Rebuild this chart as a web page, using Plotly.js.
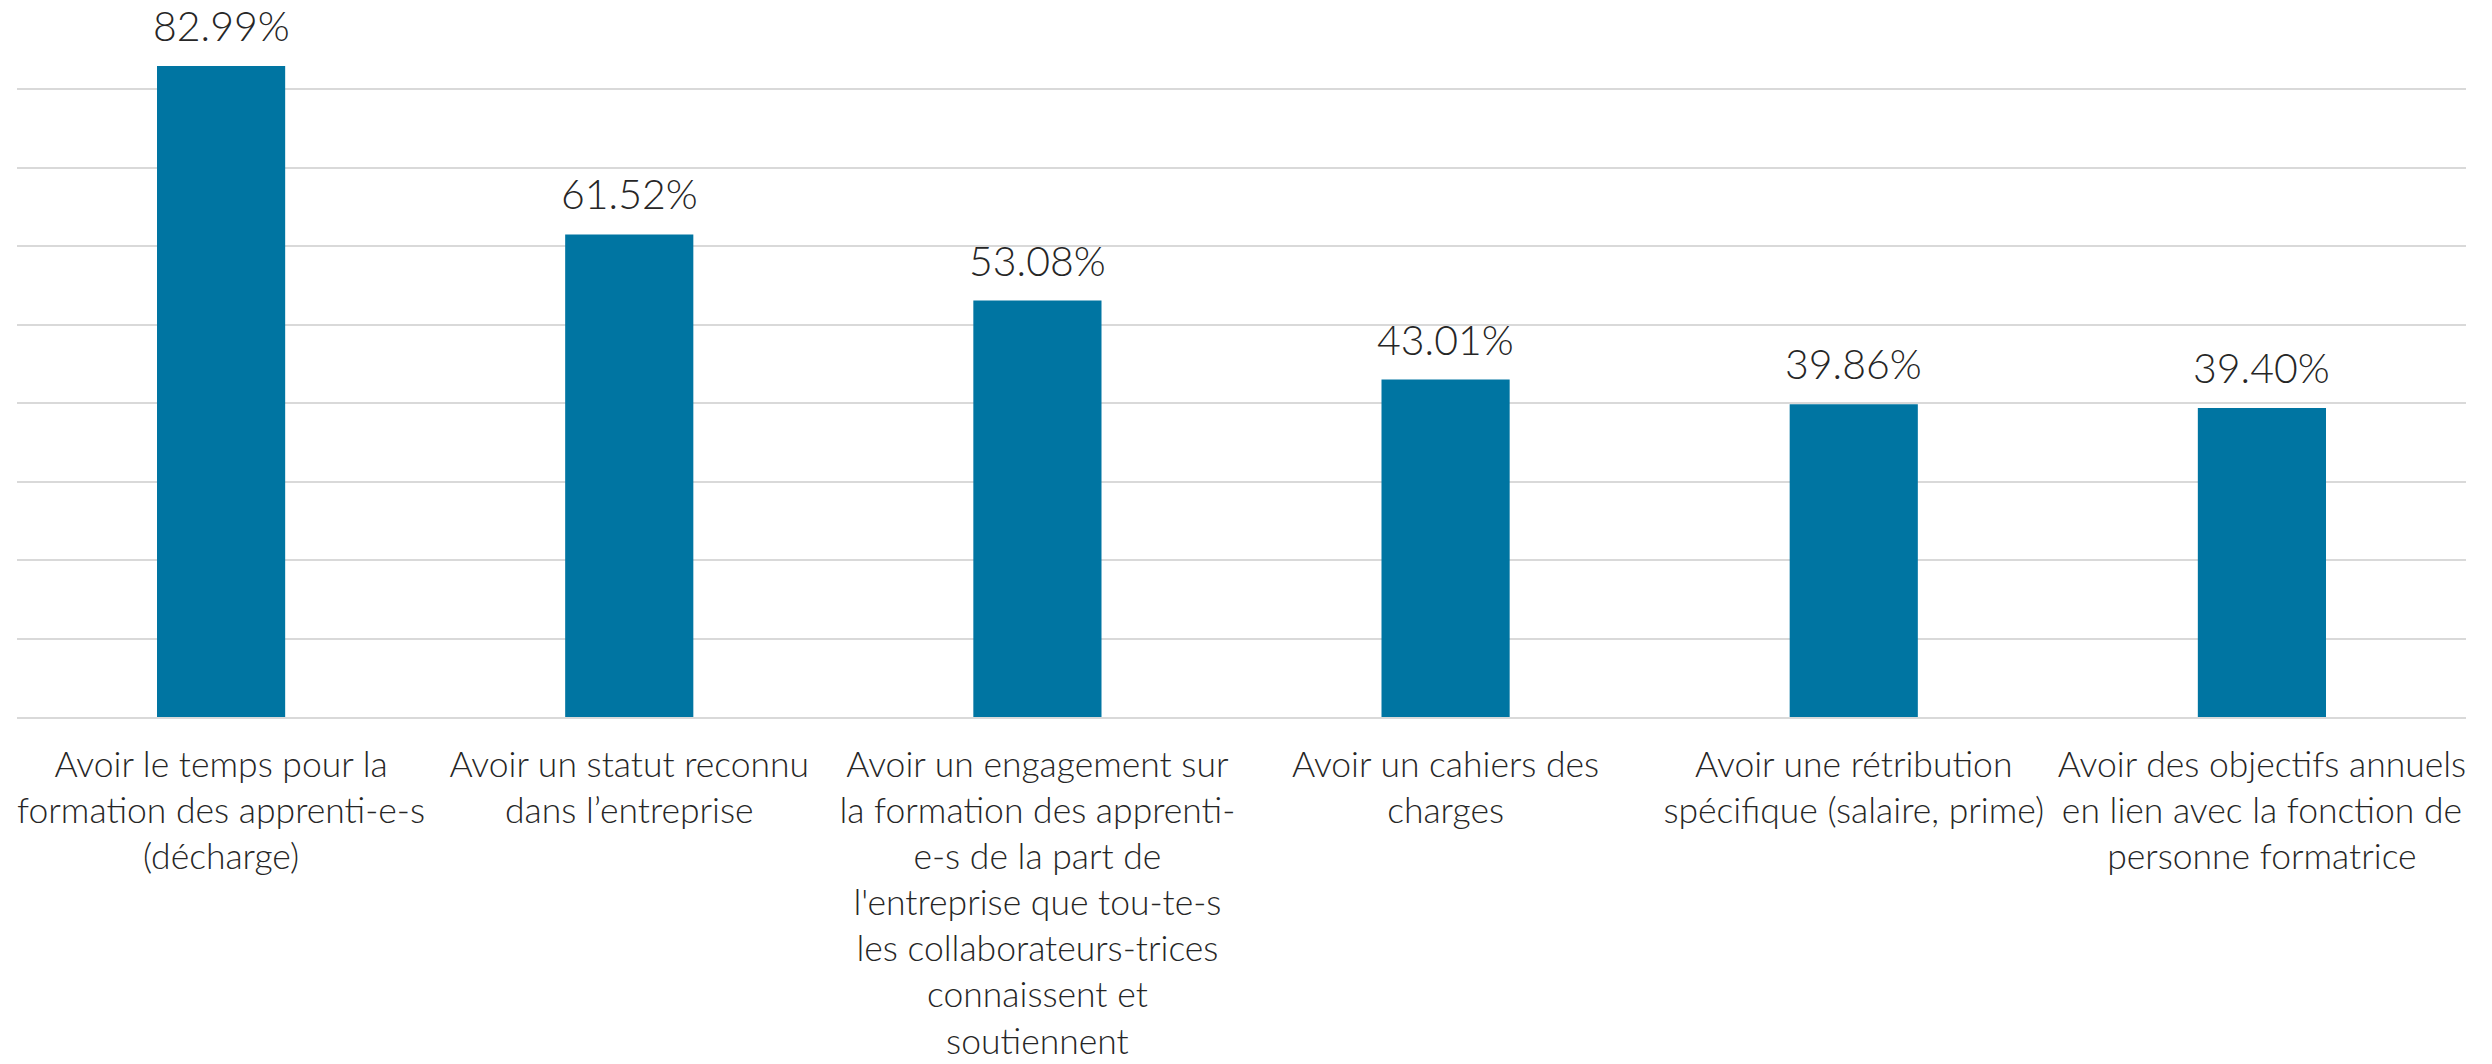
<!DOCTYPE html>
<html>
<head>
<meta charset="utf-8">
<script src="https://cdn.plot.ly/plotly-3.0.1.min.js"></script>
<style>
html,body{margin:0;padding:0;background:#fff;}
#chart{width:2492px;height:1064px;}
</style>
</head>
<body>
<div id="chart"></div>
<script>
const categories = [
  "Avoir le temps pour la<br>formation des apprenti-e-s<br>(décharge)",
  "Avoir un statut reconnu<br>dans l’entreprise",
  "Avoir un engagement sur<br>la formation des apprenti-<br>e-s de la part de<br>l'entreprise que tou-te-s<br>les collaborateurs-trices<br>connaissent et<br>soutiennent",
  "Avoir un cahiers des<br>charges",
  "Avoir une rétribution<br>spécifique (salaire, prime)",
  "Avoir des objectifs annuels<br>en lien avec la fonction de<br>personne formatrice"
];
const values = [0.8299, 0.6152, 0.5308, 0.4301, 0.3986, 0.3940];
const valueLabels = ["82.99%", "61.52%", "53.08%", "43.01%", "39.86%", "39.40%"];

const FONT = "Lato, 'Source Sans Pro', 'Noto Sans', sans-serif";
const TEXT = "#262626";

const annotations = categories.map((c, i) => ({
  x: c, y: values[i], xref: "x", yref: "y",
  text: valueLabels[i], showarrow: false,
  yanchor: "bottom", xanchor: "center", yshift: 14,
  font: {family: FONT, size: 41, color: TEXT, weight: 300}
}));

const trace = {
  type: "bar",
  x: categories,
  y: values,
  marker: {color: "#0075a2"},
  hoverinfo: "skip"
};

const layout = {
  width: 2492, height: 1064,
  margin: {l: 17, r: 26, t: 11, b: 347},
  paper_bgcolor: "#ffffff", plot_bgcolor: "#ffffff",
  bargap: 0.686,
  showlegend: false,
  font: {family: FONT, color: TEXT},
  xaxis: {
    type: "category",
    showgrid: false,
    showline: true, linecolor: "#d9d9d9", linewidth: 2,
    ticks: "", ticklabelstandoff: 15,
    tickfont: {family: FONT, size: 35.5, color: TEXT, weight: 300},
    tickangle: 0
  },
  yaxis: {
    range: [0, 0.9], dtick: 0.1, tick0: 0,
    showgrid: true, gridcolor: "#d9d9d9", gridwidth: 2,
    zeroline: false, showticklabels: false, ticks: "", showline: false,
    fixedrange: true
  },
  annotations: annotations
};

Plotly.newPlot("chart", [trace], layout, {displayModeBar: false, staticPlot: true});
</script>
</body>
</html>
